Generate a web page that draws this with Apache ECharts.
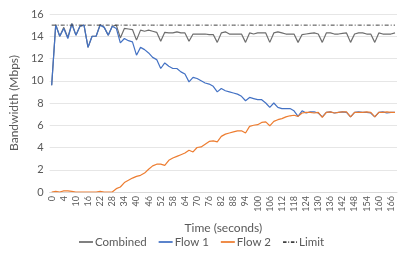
<!DOCTYPE html>
<html><head><meta charset="utf-8">
<script src="https://cdn.jsdelivr.net/npm/echarts@6/dist/echarts.min.js"></script>
<style>html,body{margin:0;padding:0;background:#fff}#c{width:403px;height:261px}</style>
</head><body><div id="c"></div>
<script>
var categories = [0,1,2,4,6,8,10,12,14,16,18,20,22,24,26,28,30,32,34,36,38,40,42,44,46,48,50,52,54,56,58,60,62,64,66,68,70,72,74,76,78,80,82,84,86,88,90,92,94,96,98,100,102,104,106,108,110,112,114,116,118,120,122,124,126,128,130,132,134,136,138,140,142,144,146,148,150,152,154,156,158,160,162,164,166,168];
var combined = [9.6,15.05,14.0,14.8,13.9,15.15,14.1,14.9,15.0,13.0,14.0,14.0,15.05,14.8,14.1,14.9,15.0,13.85,14.7,14.65,14.6,13.65,14.55,14.45,14.55,14.45,14.35,13.55,14.35,14.3,14.3,14.4,14.3,14.3,13.55,14.2,14.2,14.2,14.2,14.15,14.15,13.45,14.3,14.4,14.2,14.2,14.2,14.2,13.45,14.3,14.2,14.3,14.3,14.3,13.45,14.3,14.4,14.3,14.2,14.2,14.2,13.45,14.15,14.2,14.25,14.3,14.2,13.45,14.3,14.3,14.2,14.2,14.25,14.3,13.45,14.2,14.3,14.3,14.2,14.2,13.45,14.3,14.2,14.2,14.2,14.3];
var flow1 = [9.6,15.0,14.0,14.7,13.8,15.1,14.1,14.9,15.0,13.0,14.0,14.0,15.0,14.8,14.1,14.9,14.7,13.4,13.8,13.6,13.5,12.3,13.0,12.8,12.5,12.1,11.9,11.1,11.6,11.3,11.1,11.1,10.8,10.6,9.9,10.3,10.2,10.0,9.8,9.7,9.5,9.0,9.3,9.1,9.0,8.9,8.8,8.6,8.2,8.5,8.4,8.3,8.3,8.0,7.6,8.0,7.6,7.5,7.5,7.5,7.3,6.8,7.3,7.1,7.2,7.2,7.1,6.75,7.15,7.2,7.1,7.15,7.2,7.15,6.75,7.15,7.2,7.15,7.15,7.1,6.75,7.15,7.2,7.1,7.15,7.15];
var flow2 = [0.0,0.05,0.0,0.1,0.1,0.05,0.0,0.0,0.0,0.0,0.0,0.0,0.05,0.0,0.0,0.0,0.3,0.45,0.85,1.05,1.25,1.4,1.5,1.7,2.05,2.35,2.5,2.5,2.4,2.85,3.05,3.2,3.35,3.5,3.75,3.6,4.0,4.05,4.3,4.55,4.6,4.5,5.0,5.2,5.3,5.4,5.5,5.5,5.3,5.9,6.0,6.05,6.25,6.3,5.95,6.35,6.5,6.6,6.75,6.85,6.9,6.8,7.1,7.15,7.15,7.1,7.15,6.7,7.15,7.2,7.1,7.15,7.2,7.2,6.75,7.15,7.15,7.15,7.2,7.15,6.75,7.15,7.15,7.2,7.15,7.15];
var limitValue = 15;
var limit = categories.map(function(){ return limitValue; });
var yTicks = [0,2,4,6,8,10,12,14,16];

var FONT = 'Lato';
var LINE_ICON = 'path://M0,0H16V2H0Z';
var DASH_ICON = 'path://M0,0H4V2H0Z M6,0H7V2H6Z M9,0H13V2H9Z M15,0H16V2H15Z';
var chart = echarts.init(document.getElementById('c'), null, {renderer:'canvas'});
chart.setOption({
  animation:false,
  textStyle:{fontFamily:FONT},
  grid:{left:42,right:6,top:14,bottom:69,containLabel:false},
  legend:{
    bottom:8, left:'center', itemWidth:14, itemHeight:2, itemGap:12,
    textStyle:{fontFamily:FONT,fontSize:11.5,color:'#595959',padding:[0,0,0,-3]},
    data:[
      {name:'Combined',icon:LINE_ICON},
      {name:'Flow 1',icon:LINE_ICON},
      {name:'Flow 2',icon:LINE_ICON},
      {name:'Limit',icon:DASH_ICON}
    ]
  },
  xAxis:{
    type:'category', data:categories, boundaryGap:true,
    name:'Time (seconds)', nameLocation:'middle', nameGap:30,
    nameTextStyle:{fontFamily:FONT,fontSize:12,color:'#595959'},
    axisLine:{lineStyle:{color:'#d9d9d9'}},
    axisTick:{show:false},
    axisLabel:{interval:2,rotate:90,fontSize:9,color:'#595959',fontFamily:FONT,margin:4}
  },
  yAxis:{
    type:'value', min:yTicks[0], max:yTicks[yTicks.length-1], interval:2,
    name:'Bandwidth (Mbps)', nameLocation:'middle', nameGap:22,
    nameTextStyle:{fontFamily:FONT,fontSize:12,color:'#595959'},
    axisLine:{show:false}, axisTick:{show:false},
    axisLabel:{fontSize:11,color:'#595959',fontFamily:FONT,margin:6},
    splitLine:{lineStyle:{color:'#e6e6e6'}}
  },
  series:[
    {name:'Combined',type:'line',data:combined,symbol:'none',lineStyle:{color:'#6e6e6e',width:1.2},itemStyle:{color:'#6e6e6e'}},
    {name:'Flow 1',type:'line',data:flow1,symbol:'none',lineStyle:{color:'#4472C4',width:1.2},itemStyle:{color:'#4472C4'}},
    {name:'Flow 2',type:'line',data:flow2,symbol:'none',lineStyle:{color:'#ED7D31',width:1.2},itemStyle:{color:'#ED7D31'}},
    {name:'Limit',type:'line',data:limit,symbol:'none',lineStyle:{color:'#404040',width:1,type:[4,2,1,2]},itemStyle:{color:'#404040'}}
  ]
});
</script></body></html>
